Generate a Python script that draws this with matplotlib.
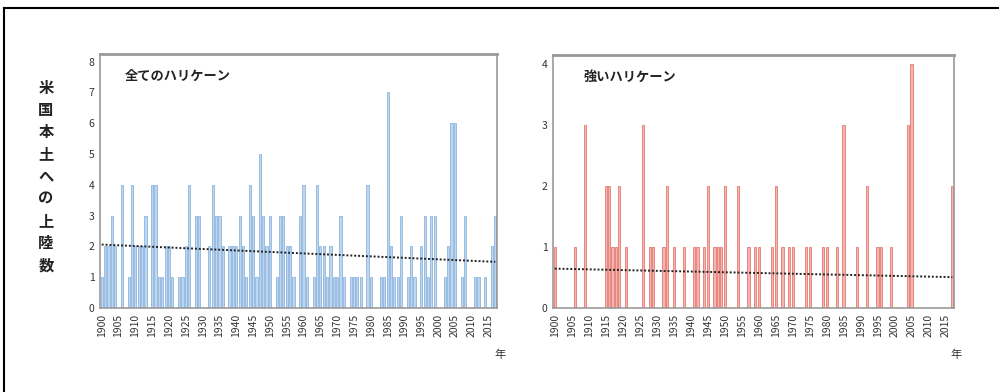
import matplotlib
matplotlib.use("Agg")
import matplotlib.pyplot as plt
import numpy as np
from matplotlib.lines import Line2D

plt.rcParams['font.family'] = ['Noto Sans CJK JP', 'DejaVu Sans']

years = np.arange(1900, 2018)

# 全てのハリケーン (1900-2017)
all_hurricanes = [
    1, 2, 2, 3, 2, 0, 4, 0, 1, 4,   # 1900s
    2, 2, 2, 3, 0, 4, 4, 1, 1, 2,   # 1910s
    2, 1, 0, 1, 1, 2, 4, 0, 3, 3,   # 1920s
    0, 0, 2, 4, 3, 3, 2, 0, 2, 2,   # 1930s
    2, 3, 2, 1, 4, 3, 1, 5, 3, 2,   # 1940s
    3, 0, 1, 3, 3, 2, 2, 1, 0, 3,   # 1950s
    4, 1, 0, 1, 4, 2, 2, 1, 2, 1,   # 1960s
    1, 3, 1, 0, 1, 1, 1, 1, 0, 4,   # 1970s
    1, 0, 0, 1, 1, 7, 2, 1, 1, 3,   # 1980s
    0, 1, 2, 1, 0, 2, 3, 1, 3, 3,   # 1990s
    0, 0, 1, 2, 6, 6, 0, 1, 3, 0,   # 2000s
    0, 1, 1, 0, 1, 0, 2, 3,         # 2010s
]

# 強いハリケーン (1900-2017)
major_hurricanes = [
    1, 0, 0, 0, 0, 0, 1, 0, 0, 3,   # 1900s
    0, 0, 0, 0, 0, 2, 2, 1, 1, 2,   # 1910s
    0, 1, 0, 0, 0, 0, 3, 0, 1, 1,   # 1920s
    0, 0, 1, 2, 0, 1, 0, 0, 1, 0,   # 1930s
    0, 1, 1, 0, 1, 2, 0, 1, 1, 1,   # 1940s
    2, 0, 0, 0, 2, 0, 0, 1, 0, 1,   # 1950s
    1, 0, 0, 0, 1, 2, 0, 1, 0, 1,   # 1960s
    1, 0, 0, 0, 1, 1, 0, 0, 0, 1,   # 1970s
    1, 0, 0, 1, 0, 3, 0, 0, 0, 1,   # 1980s
    0, 0, 2, 0, 0, 1, 1, 0, 0, 1,   # 1990s
    0, 0, 0, 0, 3, 4, 0, 0, 0, 0,   # 2000s
    0, 0, 0, 0, 0, 0, 0, 2,         # 2010s
]

ylabel_chars = list("米国本土への上陸数")
tick_years = np.arange(1900, 2018, 5)

fig = plt.figure(figsize=(9.99, 3.92), dpi=100)
fig.patch.set_facecolor("white")

# outer frame (top and left edges visible)
fig.add_artist(Line2D([0.004, 1.0], [0.979, 0.979], color="black", lw=1.5))
fig.add_artist(Line2D([0.004, 0.004], [0.0, 0.979], color="black", lw=1.5))

ax1 = fig.add_axes([0.1001, 0.2143, 0.3974, 0.648])
ax2 = fig.add_axes([0.5536, 0.2143, 0.4014, 0.645])

panels = [
    (ax1, all_hurricanes, "#bed7f0", "#8fb5df", 8.25, range(0, 9), "全てのハリケーン", 0.063),
    (ax2, major_hurricanes, "#f7b3ad", "#e37a72", 4.15, range(0, 5), "強いハリケーン", 0.075),
]

for ax, vals, fc, ec, ytop, yt, title, tx in panels:
    vals = np.array(vals)
    ax.bar(years, vals, width=0.65, color=fc, edgecolor=ec, linewidth=0.6)
    coef = np.polyfit(years, vals, 1)
    ax.plot(years, np.polyval(coef, years), color="#222222", lw=1.4,
            linestyle=(0, (1, 1)))
    ax.set_xlim(1899.5, 2017.5)
    ax.set_ylim(0, ytop)
    ax.set_yticks(list(yt))
    ax.set_xticks(tick_years)
    ax.set_xticklabels([str(y) for y in tick_years], rotation=90)
    ax.tick_params(axis="both", length=0, labelsize=7.5, colors="#333333", pad=4)
    for s in ax.spines.values():
        s.set_color("#999999")
        s.set_linewidth(1.2)
    ax.spines["top"].set_linewidth(2)
    ax.text(tx, 0.915, title, transform=ax.transAxes, fontsize=9.5,
            fontweight="bold", color="#222222", va="center", ha="left")

for i, ch in enumerate(ylabel_chars):
    fig.text(0.046, 0.775 - i * 0.0565, ch, fontsize=11, fontweight="bold",
             color="#222222", ha="center", va="center")

fig.text(0.501, 0.094, "年", fontsize=8, color="#333333", ha="center", va="center")
fig.text(0.957, 0.094, "年", fontsize=8, color="#333333", ha="center", va="center")

fig.savefig("out.png", dpi=100, facecolor="white")
